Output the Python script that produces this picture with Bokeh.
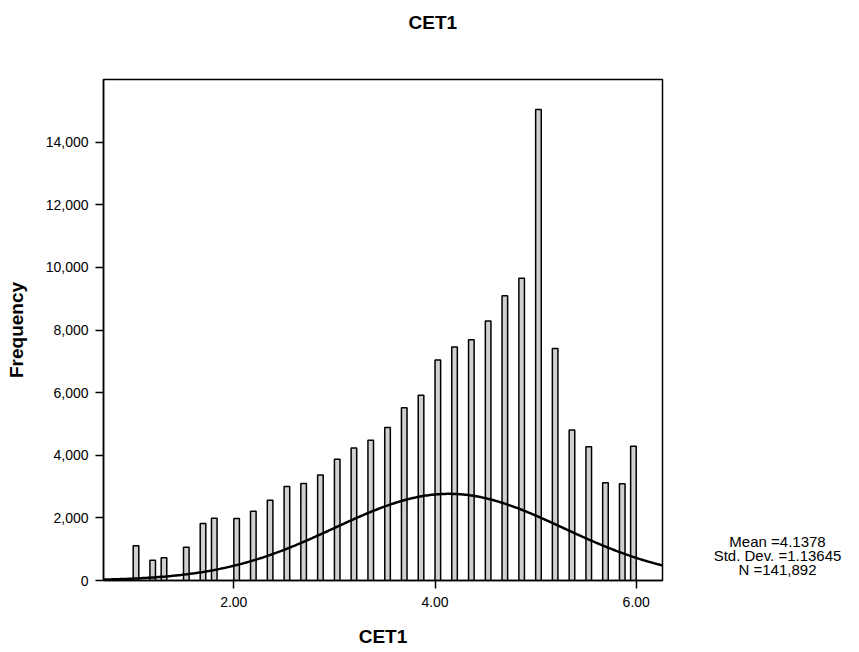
import numpy as np
from bokeh.plotting import figure
from bokeh.layouts import row
from bokeh.models import Range1d, FixedTicker, NumeralTickFormatter, Label
from bokeh.embed import file_html
from bokeh.resources import INLINE

# ---- data ----
title = "CET1"
x_label = "CET1"
y_label = "Frequency"

bin_centers = [1.028, 1.194, 1.306, 1.528, 1.694, 1.806, 2.028, 2.194, 2.361, 2.528,
               2.694, 2.861, 3.028, 3.194, 3.361, 3.528, 3.694, 3.861, 4.028, 4.194,
               4.361, 4.528, 4.694, 4.861, 5.028, 5.194, 5.361, 5.528, 5.694, 5.861,
               5.972]
frequencies = [1110, 650, 730, 1060, 1820, 1990, 1980, 2210, 2560, 3000,
               3100, 3370, 3870, 4230, 4480, 4890, 5520, 5920, 7040, 7460,
               7690, 8290, 9090, 9650, 15040, 7410, 4810, 4270, 3120, 3090,
               4290]
bin_width = 5.0 / 90

mean = 4.1378
std_dev = 1.13645
n_obs = 141892

x_ticks = [2, 4, 6]
y_ticks = [0, 2000, 4000, 6000, 8000, 10000, 12000, 14000]
stats_lines = ["Mean =4.1378", "Std. Dev. =1.13645", "N =141,892"]

# ---- layout ----
W, H = 859, 652
MAIN_W = 680
F_LEFT, F_RIGHT, F_TOP, F_BOTTOM = 103, 662, 79, 580
X0, X1 = 0.705, 6.261
Y0, Y1 = 0, 16000

FONT = "Liberation Sans"

p = figure(width=MAIN_W, height=H, output_backend="svg", toolbar_location=None,
           x_range=Range1d(X0, X1), y_range=Range1d(Y0, Y1),
           min_border_left=F_LEFT, min_border_right=MAIN_W - F_RIGHT,
           min_border_top=F_TOP, min_border_bottom=H - F_BOTTOM)
p.background_fill_color = "white"
p.border_fill_color = "white"
p.outline_line_color = "black"
p.outline_line_width = 1.5
p.xgrid.visible = False
p.ygrid.visible = False

# title, centred over the whole image (trailing blank lines lift it upward)
p.title.text = title + "\n\n"
p.title.align = "left"
p.title.offset = 305
p.title.standoff = 10
p.title.text_font = FONT
p.title.text_font_style = "bold"
p.title.text_font_size = "19px"
p.title.text_color = "black"

# histogram bars
p.vbar(x=bin_centers, top=frequencies, bottom=0, width=bin_width,
       fill_color="#d0d0d0", line_color="black", line_width=1.5)

# normal curve from the stated mean / sd / N
xs = np.linspace(X0, X1, 400)
ys = n_obs * bin_width * np.exp(-0.5 * ((xs - mean) / std_dev) ** 2) / (std_dev * np.sqrt(2 * np.pi))
p.line(xs, ys, line_color="black", line_width=2.5)

# axes
for ax in (p.xaxis[0], p.yaxis[0]):
    ax.axis_line_color = "black"
    ax.axis_line_width = 1.5
    ax.major_tick_line_color = "black"
    ax.major_tick_line_width = 1.5
    ax.major_tick_in = 0
    ax.major_tick_out = 8
    ax.minor_tick_line_color = None
    ax.major_label_text_font = FONT
    ax.major_label_text_font_size = "14px"
    ax.major_label_text_color = "black"
    ax.axis_label_text_font = FONT
    ax.axis_label_text_font_style = "bold"
    ax.axis_label_text_font_size = "19px"
    ax.axis_label_text_color = "black"

p.xaxis.ticker = FixedTicker(ticks=x_ticks)
p.xaxis.formatter = NumeralTickFormatter(format="0.00")
p.xaxis.major_label_standoff = 8
p.xaxis.axis_label = x_label
p.xaxis.axis_label_standoff = 16

p.yaxis.ticker = FixedTicker(ticks=y_ticks)
p.yaxis.formatter = NumeralTickFormatter(format="0,0")
p.yaxis.major_label_standoff = 7
p.yaxis.axis_label = y_label
p.yaxis.axis_label_standoff = 16

# statistics panel to the right (its frame lines up with the main frame)
SIDE_W = W - MAIN_W
s = figure(width=SIDE_W, height=H, output_backend="svg", toolbar_location=None,
           x_range=Range1d(0, SIDE_W), y_range=Range1d(F_BOTTOM, F_TOP),
           x_axis_type=None, y_axis_type=None,
           min_border_left=0, min_border_right=0,
           min_border_top=F_TOP, min_border_bottom=H - F_BOTTOM)
s.outline_line_color = None
s.background_fill_color = "white"
s.border_fill_color = "white"
s.xgrid.visible = False
s.ygrid.visible = False
for i, line in enumerate(stats_lines):
    s.add_layout(Label(x=777 - MAIN_W, y=541 + i * 14, text=line, text_font=FONT,
                       text_font_size="15px", text_color="black",
                       text_align="center", text_baseline="middle"))

layout = row(p, s, spacing=0)
open("out.html", "w").write(file_html(layout, INLINE))
